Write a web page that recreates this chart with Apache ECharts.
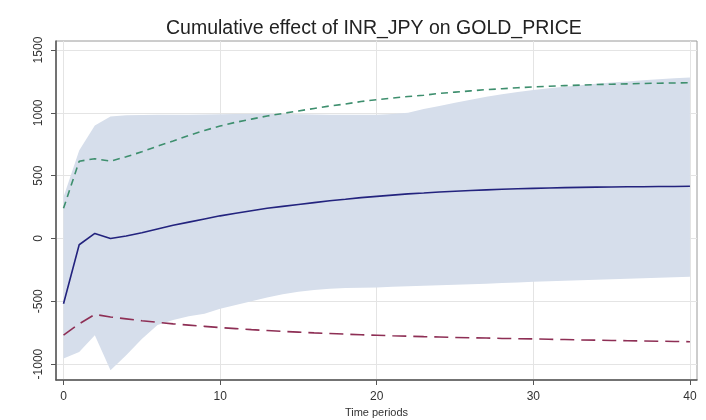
<!DOCTYPE html>
<html>
<head>
<meta charset="utf-8">
<script src="https://cdn.jsdelivr.net/npm/echarts@6/dist/echarts.min.js"></script>
<style>
  html, body { margin: 0; padding: 0; background: #fff; }
  #chart { width: 706px; height: 420px; }
</style>
</head>
<body>
<div id="chart"></div>
<script>
"use strict";

// time periods 0..40
const periods = Array.from({ length: 41 }, (_, i) => i);

// cumulative effect (solid line)
const effect = [
  -520, -50, 40, 0, 20, 45, 75, 105, 130, 155,
  180, 200, 220, 240, 255, 270, 285, 300, 312, 325,
  335, 345, 355, 362, 370, 376, 382, 387, 392, 396,
  399, 402, 405, 407, 409, 410, 411, 412, 413, 414, 415,
];

// upper dashed line
const upperLine = [
  240, 615, 635, 615, 650, 690, 735, 775, 820, 860,
  895, 925, 950, 975, 995, 1015, 1035, 1055, 1070, 1090,
  1105, 1118, 1130, 1140, 1155, 1165, 1175, 1185, 1192, 1200,
  1207, 1212, 1217, 1221, 1225, 1228, 1231, 1234, 1236, 1238, 1240,
];

// lower dashed line
const lowerLine = [
  -770, -680, -605, -625, -640, -655, -668, -680, -690, -700,
  -710, -718, -726, -733, -740, -746, -752, -757, -762, -767,
  -771, -775, -778, -782, -785, -788, -791, -793, -796, -798,
  -800, -803, -805, -808, -810, -812, -814, -816, -818, -820, -822,
];

// shaded band edges
const bandUpper = [
  330, 700, 900, 970, 980, 983, 985, 985, 985, 986,
  988, 990, 990, 990, 990, 988, 986, 985, 985, 985,
  985, 990, 1000, 1030, 1055, 1080, 1105, 1128, 1148, 1165,
  1181, 1195, 1208, 1220, 1231, 1241, 1250, 1259, 1267, 1275, 1282,
];
const bandLower = [
  -955, -905, -770, -1050, -930, -800, -690, -650, -620, -600,
  -560, -530, -500, -470, -445, -425, -410, -400, -395, -392,
  -390, -385, -380, -376, -372, -368, -364, -360, -355, -350,
  -345, -341, -337, -333, -329, -325, -321, -317, -313, -309, -305,
];

const xTicks = [0, 10, 20, 30, 40];
const yTicks = [-1000, -500, 0, 500, 1000, 1500];

const chart = echarts.init(document.getElementById("chart"));

const pairs = (ys) => periods.map((t, i) => [t, ys[i]]);
const bandData = periods.map((t, i) => [t, bandLower[i], bandUpper[i]]);

const font = "'Liberation Sans', Arial, sans-serif";

// whole band drawn as one polygon (only once, on the first item)
const renderBand = (params, api) => {
  if (params.dataIndex !== 0) return null;
  const top = bandData.map((d) => api.coord([d[0], d[2]]));
  const bottom = bandData.map((d) => api.coord([d[0], d[1]])).reverse();
  return {
    type: "polygon",
    shape: { points: top.concat(bottom) },
    style: { fill: "#d6deeb" },
    silent: true,
  };
};

chart.setOption({
  backgroundColor: "#fff",
  animation: false,
  title: {
    text: "Cumulative effect of INR_JPY on GOLD_PRICE",
    left: 161,
    top: 14,
    textStyle: { fontFamily: font, fontSize: 19.5, fontWeight: "normal", color: "#222" },
  },
  grid: {
    left: 56, right: 9, top: 41, bottom: 40,
    outerBoundsMode: "none",
    show: true,
    borderColor: "#9a9a9a",
    borderWidth: 1,
  },
  xAxis: {
    type: "value",
    min: -0.48,
    max: 40.45,
    name: "Time periods",
    nameLocation: "middle",
    nameGap: 24,
    nameTextStyle: { fontFamily: font, fontSize: 11, color: "#333" },
    axisLine: { onZero: false, lineStyle: { color: "#555", width: 1.5 } },
    axisTick: { show: true, length: 5, customValues: xTicks, lineStyle: { color: "#555" } },
    axisLabel: { customValues: xTicks, fontFamily: font, fontSize: 12, color: "#333", margin: 11 },
    splitLine: { show: true, lineStyle: { color: "#e4e4e4" } },
  },
  yAxis: {
    type: "value",
    min: -1127,
    max: 1572,
    axisLine: { show: true, onZero: false, lineStyle: { color: "#555", width: 1.5 } },
    axisTick: { show: true, length: 5, customValues: yTicks, lineStyle: { color: "#555" } },
    axisLabel: {
      customValues: yTicks,
      formatter: (v) => String(v),
      rotate: 90,
      fontFamily: font,
      fontSize: 12,
      color: "#333",
      margin: 11,
    },
    splitLine: { show: true, lineStyle: { color: "#e4e4e4" } },
  },
  series: [
    {
      type: "custom",
      renderItem: renderBand,
      data: bandData,
      encode: { x: 0, y: [1, 2] },
      silent: true,
      z: 1,
    },
    {
      type: "line",
      data: pairs(upperLine),
      symbol: "none",
      lineStyle: { color: "#3e8f6e", width: 1.6, type: [7, 5] },
      z: 3,
    },
    {
      type: "line",
      data: pairs(lowerLine),
      symbol: "none",
      lineStyle: { color: "#8e2f55", width: 1.6, type: [14, 7] },
      z: 3,
    },
    {
      type: "line",
      data: pairs(effect),
      symbol: "none",
      lineStyle: { color: "#23237e", width: 1.6 },
      z: 3,
    },
  ],
});
</script>
</body>
</html>
